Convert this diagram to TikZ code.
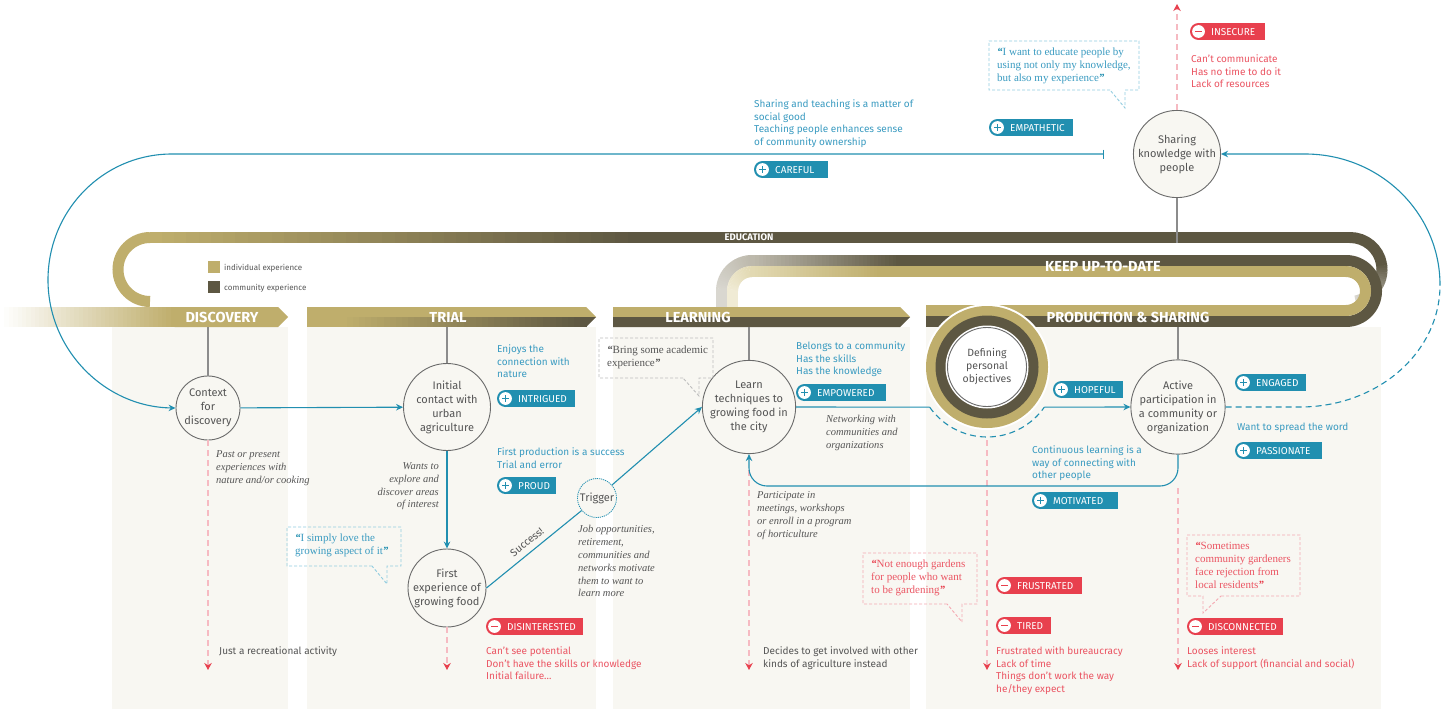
\documentclass[tikz,border=0pt]{standalone}
\usepackage{fontspec}
\setmainfont{Liberation Serif}
\setsansfont{Fira Sans}
\usetikzlibrary{arrows.meta,calc}

\definecolor{gold}{HTML}{BFAE6C}
\definecolor{olive}{HTML}{5D5742}
\definecolor{colbg}{HTML}{F8F7F2}
\definecolor{ubblue}{HTML}{218FB0}
\definecolor{ubbluetext}{HTML}{3A9BC1}
\definecolor{ubred}{HTML}{E8404E}
\definecolor{ubredtext}{HTML}{EB5563}
\definecolor{ubpink}{HTML}{F6BAC2}
\definecolor{ubgray}{HTML}{555555}
\definecolor{ubring}{HTML}{6A6A6A}
\definecolor{ubstem}{HTML}{8C8C8C}
\definecolor{qblue}{HTML}{92CDE0}
\definecolor{qgray}{HTML}{BDBDBD}
\definecolor{qred}{HTML}{F4A8B1}
\definecolor{fadegray}{HTML}{D9D7D0}
\definecolor{midgray}{HTML}{BDB9AC}
\definecolor{fadegold}{HTML}{F0EBD5}
\definecolor{midgold}{HTML}{E2D9B2}

% arc of a ribbon whose colour runs from #7 (at angle #4) to #8 (at angle #5)
\newcommand\gradarc[8]{%
  \foreach \k in {0,...,23}{%
    \pgfmathsetmacro\aa{#4+(#5-#4)/24*\k}%
    \pgfmathsetmacro\ab{#4+(#5-#4)/24*min(\k+1.3,24)}%
    \pgfmathsetmacro\pp{100/23*\k}%
    \draw[line width=#6, color=#8!\pp!#7] (#1,#2) ++(\aa:#3) arc[start angle=\aa, end angle=\ab, radius=#3];
  }}
% straight strip from x=#1 to x=#2, y=#3..#4, colour #5 on the left to #6 on the right
\newcommand\hgrad[6]{%
  \foreach \k in {0,...,39}{%
    \pgfmathsetmacro\xa{#1+(#2-#1)/40*\k}%
    \pgfmathsetmacro\xb{#1+(#2-#1)/40*(\k+1)+0.6}%
    \pgfmathsetmacro\pp{100/39*\k}%
    \fill[#6!\pp!#5] (\xa,#3) rectangle (\xb,#4);
  }}

% feeling badges: name, left x, top y, right x, label
\newcommand\goodbadge[5]{%
  \fill[ubblue] (#2+8.5,#3) rectangle (#4,#3+17);
  \fill[ubblue] (#2+8.5,#3+8.5) circle (8.5);
  \fill[white] (#2+8.5,#3+8.5) circle (6.4);
  \draw[ubblue, line width=1.8pt] (#2+5,#3+8.5) -- (#2+12,#3+8.5) (#2+8.5,#3+5) -- (#2+8.5,#3+12);
  \node[badgetxt] (#1) at (#2+21,#3+8.8) {#5};}
\newcommand\badbadge[5]{%
  \fill[ubred] (#2+8.5,#3) rectangle (#4,#3+17);
  \fill[ubred] (#2+8.5,#3+8.5) circle (8.5);
  \fill[white] (#2+8.5,#3+8.5) circle (6.4);
  \draw[ubred, line width=1.8pt] (#2+5,#3+8.5) -- (#2+12,#3+8.5);
  \node[badgetxt] (#1) at (#2+21,#3+8.8) {#5};}

\newcommand\oq[1]{{\color{#1}\bfseries\itshape “}}
\newcommand\cq[1]{{\color{#1}\bfseries\itshape ”}}

\begin{document}
\begin{tikzpicture}[x=1pt,y=-1pt,
  stage/.style={circle, draw=ubring, line width=0.9pt, fill=colbg, text=ubgray, align=center, inner sep=0pt,
    font=\sffamily\fontsize{11}{14}\selectfont},
  stem/.style={draw=ubstem, line width=1.3pt},
  flow/.style={draw=ubblue, line width=1.1pt},
  tip/.style={-{Stealth[length=7pt,width=6.5pt]}},
  fail/.style={draw=ubpink, line width=1.3pt, dash pattern=on 6pt off 4pt, -{Stealth[length=7pt,width=7.5pt,color=ubred]}},
  bandtxt/.style={text=white, inner sep=0pt, font=\sffamily\bfseries\fontsize{14.5}{14.5}\selectfont},
  badgetxt/.style={anchor=west, inner sep=0pt, text=white, font=\sffamily\fontsize{10}{10}\selectfont},
  sanstxt/.style={anchor=north west, align=left, inner sep=0pt, font=\sffamily\fontsize{10}{12.7}\selectfont},
  bluetxt/.style={sanstxt, text=ubbluetext},
  redtxt/.style={sanstxt, text=ubredtext},
  graytxt/.style={sanstxt, text=ubgray},
  itxt/.style={anchor=north west, align=left, inner sep=0pt, text=ubgray, font=\rmfamily\itshape\fontsize{10.5}{12.8}\selectfont},
  quotetxt/.style={anchor=north west, align=left, inner sep=0pt, font=\rmfamily\fontsize{11}{13}\selectfont},
  qline/.style={line width=0.9pt, dash pattern=on 3pt off 2pt},
  legendtxt/.style={anchor=west, inner sep=0pt, text=ubgray, font=\sffamily\fontsize{8}{8}\selectfont}
]
\useasboundingbox (0,0) rectangle (1442,709);
\fill[white] (0,0) rectangle (1442,709);

% stage columns
\fill[colbg] (112,327) rectangle (288,709);
\fill[colbg] (307,327) rectangle (596,709);
\fill[colbg] (613,327) rectangle (910,709);
\fill[colbg] (926,327) rectangle (1381,709);

% EDUCATION ribbon
\draw[gold, line width=11pt] (150,301.5) arc[start angle=90, end angle=270, radius=32];
\hgrad{149.5}{640}{232}{243}{gold}{olive}
\fill[olive] (639.5,232) rectangle (1350.5,243);
\draw[olive, line width=11pt] (1350,237.5) arc[start angle=270, end angle=350, radius=32];
\gradarc{1350}{269.5}{32}{349}{440}{11pt}{olive}{fadegray}

% KEEP UP-TO-DATE ribbon, turning into PRODUCTION & SHARING
\fill[fadegray] (716,290) rectangle (727,307);
\fill[fadegold] (727,290) rectangle (738,307);
\gradarc{752}{291}{30.5}{180}{270}{11pt}{fadegray}{midgray}
\gradarc{752}{291}{19.5}{180}{270}{11pt}{fadegold}{midgold}
\hgrad{751.5}{900}{255}{266}{midgray}{olive}
\fill[olive] (899.5,255) rectangle (1346.5,266);
\hgrad{751.5}{880}{266}{277}{midgold}{gold}
\fill[gold] (879.5,266) rectangle (1346.5,277);
\draw[olive, line width=11pt] (1346,260.5) arc[start angle=270, end angle=450, radius=30.5];
\draw[gold, line width=11pt] (1346,271.5) arc[start angle=270, end angle=450, radius=19.5];
\fill[gold] (926,305) rectangle (1346.5,316);
\fill[olive] (926,316) rectangle (1346.5,327);

% stage arrows
\hgrad{0}{175}{307}{327}{white}{gold}
\fill[gold] (174.5,307) -- (278,307) -- (288,317) -- (278,327) -- (174.5,327) -- cycle;
\fill[gold] (307,307) -- (586,307) -- (596,317) -- (307,317) -- cycle;
\fill[gold] (307,317) rectangle (341,327);
\hgrad{340.5}{586.5}{317}{327}{gold}{olive}
\fill[olive] (586,317) -- (596,317) -- (586,327) -- cycle;
\fill[gold] (613,307) -- (900,307) -- (910,317) -- (613,317) -- cycle;
\fill[olive] (613,317) -- (910,317) -- (900,327) -- (613,327) -- cycle;

\node[bandtxt] (discovery) at (222,317.5) {DISCOVERY};
\node[bandtxt] (trial) at (448,317.5) {TRIAL};
\node[bandtxt] (learning) at (698,317.5) {LEARNING};
\node[bandtxt] (production) at (1128,317) {PRODUCTION \& SHARING};
\node[bandtxt] (keep) at (1103,266) {KEEP UP-TO-DATE};
\node[bandtxt, font=\sffamily\bfseries\fontsize{9.5}{9.5}\selectfont] (education) at (749,237.5) {EDUCATION};

% legend
\fill[gold] (208,261) rectangle (220,273);
\node[legendtxt] (indiv) at (224,268) {individual experience};
\fill[olive] (208,281) rectangle (220,293);
\node[legendtxt] (commu) at (224,288.5) {community experience};

% rings around the personal objectives
\fill[white] (987,367) circle (63);
\fill[gold] (987,367) circle (61);
\fill[olive] (987,367) circle (51.5);
\fill[white] (987,367) circle (41.5);

% stages
\node[stage, minimum size=64pt] (context) at (208,408) {Context\\for\\discovery};
\node[stage, minimum size=87pt] (initial) at (447,407) {Initial\\contact with\\urban\\agriculture};
\node[stage, minimum size=78pt] (first) at (447,588) {First\\experience of\\growing food};
\node[stage, minimum size=87pt] (learn) at (749,407) {Learn\\techniques to\\growing food in\\the city};
\node[stage, minimum size=79pt, fill=white, font=\sffamily\fontsize{10.5}{13}\selectfont] (defining) at (987,367) {Defining\\personal\\objectives};
\node[stage, minimum size=87pt] (active) at (1178,407) {Active\\participation in\\a community or\\organization};
\node[stage, minimum size=87pt] (sharing) at (1177,154) {Sharing\\knowledge with\\people};
\node[circle, draw=ubblue, line width=0.8pt, dash pattern=on 1.2pt off 0.9pt, fill=colbg, minimum size=39pt, inner sep=0pt,
  text=ubgray, font=\sffamily\fontsize{11}{11}\selectfont] (trigger) at (597,498) {Trigger};

% band anchors
\coordinate (bdisc) at (208,327);
\coordinate (btrial) at (447,327);
\coordinate (blearn) at (749,327);
\coordinate (bprod) at (1178,327);
\coordinate (bedu) at (1177,243);
\draw[stem] (context.north) -- (bdisc);
\draw[stem] (initial.north) -- (btrial);
\draw[stem] (learn.north) -- (blearn);
\draw[stem] (active.north) -- (bprod);
\draw[stem] (sharing.south) -- (bedu);

% drop-out paths
\coordinate (endA) at (208,670);
\coordinate (endB) at (447,670);
\coordinate (learnfail) at (749,470);
\coordinate (endC) at (749,670);
\coordinate (defail) at (987,440);
\coordinate (endD) at (987,670);
\coordinate (activefail) at (1178,488);
\coordinate (endE) at (1178,670);
\coordinate (endF) at (1177,4);
\draw[fail] (context.south) -- (endA);
\draw[fail] (first.south) -- (endB);
\draw[fail] (learnfail) -- (endC);
\draw[fail] (defail) -- (endD);
\draw[fail] (activefail) -- (endE);
\draw[fail] (sharing.north) -- (endF);

% main flow
\draw[flow, tip] (context) -- (initial);
\draw[flow, tip] (initial) -- (first);
\draw[flow] (first.east) -- (trigger);
\draw[flow, tip] (trigger) -- (learn.west);
\node[font=\sffamily\fontsize{10.5}{11}\selectfont, text=ubgray, rotate=39, inner sep=0pt] (success) at (527,542) {Success!};

\coordinate (ringL) at (929.66,407.15);
\coordinate (ringR) at (1044.34,407.15);
\draw[flow] (learn.east) -- (ringL);
\draw[flow, dash pattern=on 6pt off 4pt] (ringL) arc[start angle=145, end angle=35, radius=70];
\draw[flow, tip] (ringR) -- (active.west);
\draw[flow, tip, rounded corners=18pt] (active.south) -- (1178,486) -- (749,486) -- (learn.south);

% outer loops
\coordinate (loopstart) at (1104,154);
\draw[flow, {Bar[width=9pt]}-{Stealth[length=7pt,width=6.5pt]}] (loopstart) -- (172,154)
  .. controls (103.5,154) and (48,210) .. (48,280)
  .. controls (48,350) and (105,407) .. (context.west);
\coordinate (rloop) at (1440,285);
\draw[flow, dash pattern=on 6pt off 4pt] (active.east) -- (1300,407)
  .. controls (1377,407) and (1440,353) .. (rloop);
\draw[flow, tip] (rloop) .. controls (1440,213) and (1380,154) .. (1305,154) -- (sharing.east);

% positive and negative feelings
\goodbadge{careful}{754}{161}{828}{CAREFUL}
\goodbadge{empathetic}{989}{119}{1073}{EMPATHETIC}
\goodbadge{intrigued}{497}{390}{575}{INTRIGUED}
\goodbadge{proud}{497}{477}{556}{PROUD}
\goodbadge{empowered}{796}{384}{886}{EMPOWERED}
\goodbadge{hopeful}{1053}{381}{1123}{HOPEFUL}
\goodbadge{engaged}{1235}{374}{1306}{ENGAGED}
\goodbadge{passionate}{1235}{442}{1322}{PASSIONATE}
\goodbadge{motivated}{1032}{492}{1118}{MOTIVATED}
\badbadge{insecure}{1190}{23}{1265}{INSECURE}
\badbadge{disinterested}{486}{618}{583}{DISINTERESTED}
\badbadge{frustrated}{996}{577}{1082}{FRUSTRATED}
\badbadge{tired}{996}{617}{1051}{TIRED}
\badbadge{disconnected}{1187}{618}{1283}{DISCONNECTED}

% motivations
\node[bluetxt] (social) at (754,99.4) {Sharing and teaching is a matter of\\social good\\Teaching people enhances sense\\of community ownership};
\node[bluetxt] (enjoys) at (497,344.4) {Enjoys the\\connection with\\nature};
\node[bluetxt] (firstprod) at (497,447.4) {First production is a success\\Trial and error};
\node[bluetxt] (belongs) at (796,341.4) {Belongs to a community\\Has the skills\\Has the knowledge};
\node[bluetxt] (continuous) at (1032,445.4) {Continuous learning is a\\way of connecting with\\other people};
\node[bluetxt] (spread) at (1237,422.4) {Want to spread the word};

% barriers
\node[redtxt] (cantcomm) at (1191,54.4) {Can’t communicate\\Has no time to do it\\Lack of resources};
\node[redtxt] (cantsee) at (486,646.4) {Can’t see potential\\Don’t have the skills or knowledge\\Initial failure...};
\node[redtxt] (bureau) at (996,646.4) {Frustrated with bureaucracy\\Lack of time\\Things don’t work the way\\he/they expect};
\node[redtxt] (looses) at (1187,646.4) {Looses interest\\Lack of support (financial and social)};

% outcomes
\node[graytxt] (recreational) at (219,646.4) {Just a recreational activity};
\node[graytxt] (decides) at (763,646.4) {Decides to get involved with other\\kinds of agriculture instead};

% transitions
\node[itxt] (past) at (216,450.5) {Past or present\\experiences with\\nature and/or cooking};
\node[itxt, anchor=north east, align=right] (wants) at (439,462.5) {Wants to\\explore and\\discover areas\\of interest};
\node[itxt] (jobs) at (578,525.5) {Job opportunities,\\retirement,\\communities and\\networks motivate\\them to want to\\learn more};
\node[itxt] (networking) at (826,415.5) {Networking with\\communities and\\organizations};
\node[itxt] (participate) at (757,491.5) {Participate in\\meetings, workshops\\or enroll in a program\\of horticulture};

% quotes
\node[quotetxt, text=ubbluetext] (q1) at (997,48) {\oq{ubblue}I want to educate people by\\using not only my knowledge,\\but also my experience\cq{ubblue}};
\draw[qline, qblue] (1110,90) -- (989,90) -- (989,41) -- (1139,41) -- (1139,90) -- (1125,90) -- (1125,108) -- cycle;
\node[quotetxt, text=ubgray] (q2) at (607,346) {\oq{ubgray}Bring some academic\\experience\cq{ubgray}};
\draw[qline, qgray] (683,378) -- (599,378) -- (599,338) -- (713,338) -- (713,378) -- (699,378) -- (699,396) -- cycle;
\node[quotetxt, text=ubbluetext] (q3) at (295,534) {\oq{ubblue}I simply love the\\growing aspect of it\cq{ubblue}};
\draw[qline, qblue] (372,566) -- (287,566) -- (287,527) -- (401,527) -- (401,566) -- (387,566) -- (387,584) -- cycle;
\node[quotetxt, text=ubredtext] (q4) at (871,560) {\oq{ubred}Not enough gardens\\for people who want\\to be gardening\cq{ubred}};
\draw[qline, qred] (947,604) -- (863,604) -- (863,553) -- (977,553) -- (977,604) -- (962,604) -- (962,622) -- cycle;
\node[quotetxt, text=ubredtext] (q5) at (1195,542) {\oq{ubred}Sometimes\\community gardeners\\face rejection from\\local residents\cq{ubred}};
\draw[qline, qred] (1221,596) -- (1300,596) -- (1300,535) -- (1187,535) -- (1187,596) -- (1203,596) -- (1203,613) -- cycle;
\end{tikzpicture}
\end{document}
